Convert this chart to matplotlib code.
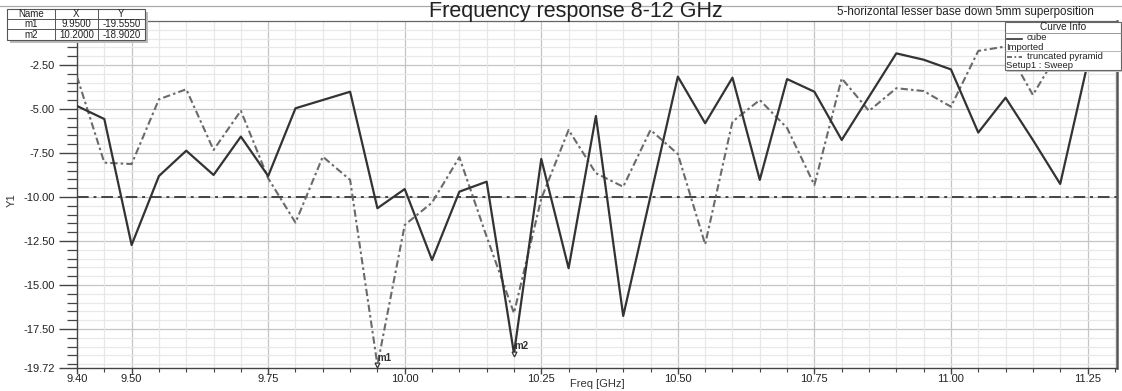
import matplotlib
matplotlib.use("Agg")
import matplotlib.pyplot as plt
from matplotlib.lines import Line2D
from matplotlib.patches import Rectangle
from matplotlib.ticker import FixedLocator, MultipleLocator

plt.rcParams['font.family'] = ['Liberation Sans', 'DejaVu Sans']

# ---------------- data ----------------
freq = [9.40, 9.45, 9.50, 9.55, 9.60, 9.65, 9.70, 9.75, 9.80, 9.85,
        9.90, 9.95, 10.00, 10.05, 10.10, 10.15, 10.20, 10.25, 10.30, 10.35,
        10.40, 10.45, 10.50, 10.55, 10.60, 10.65, 10.70, 10.75, 10.80, 10.85,
        10.90, 10.95, 11.00, 11.05, 11.10, 11.15, 11.20, 11.25]
cube = [-4.83, -5.57, -12.73, -8.81, -7.37, -8.75, -6.57, -8.81, -4.96, -4.49,
        -4.02, -10.64, -9.55, -13.58, -9.70, -9.13, -18.90, -7.84, -14.05, -5.40,
        -16.76, -9.95, -3.16, -5.81, -3.22, -9.03, -3.30, -4.02, -6.76, -4.30,
        -1.84, -2.20, -2.75, -6.34, -4.36, -6.76, -9.26, -2.45]
pyramid = [-3.16, -8.05, -8.13, -4.45, -3.88, -7.33, -5.10, -8.94, -11.46, -7.71,
           -9.03, -19.555, -11.59, -10.32, -7.74, -12.26, -16.60, -10.10, -6.19, -8.65,
           -9.42, -6.19, -7.56, -12.69, -5.72, -4.49, -6.08, -9.32, -3.26, -5.11,
           -3.82, -3.98, -4.87, -1.70, -1.45, -4.20, -1.60, -1.30]
threshold = -10.0
marker_names = ["m1", "m2"]
marker_x = [9.95, 10.20]
marker_y = [-19.555, -18.902]
xtick_vals = [9.40, 9.50, 9.75, 10.00, 10.25, 10.50, 10.75, 11.00, 11.25]
ytick_vals = [-2.5, -5.0, -7.5, -10.0, -12.5, -15.0, -17.5, -19.72]
x_range = [9.40, 11.304]
y_range = [-19.72, 0.0]
title = "Frequency response 8-12 GHz"
subtitle = "5-horizontal lesser base down 5mm superposition"
legend_entries = [("cube", "Imported"), ("truncated pyramid", "Setup1 : Sweep")]

# ---------------- figure ----------------
W, H = 1122, 391
fig = plt.figure(figsize=(W / 100, H / 100), dpi=100)
ax = fig.add_axes([77 / W, 1 - 368 / H, (1117 - 77) / W, (368 - 21) / H])

def fx(px):
    return px / W

def fy(py):
    return 1 - py / H

ax.set_xlim(*x_range)
ax.set_ylim(*y_range)

# grid
ax.xaxis.set_major_locator(FixedLocator(xtick_vals))
ax.xaxis.set_minor_locator(MultipleLocator(0.05))
ax.yaxis.set_major_locator(FixedLocator(ytick_vals))
ax.yaxis.set_minor_locator(MultipleLocator(0.5))
ax.set_xticklabels([f"{v:.2f}" for v in xtick_vals])
ax.set_yticklabels([f"{v:.2f}" for v in ytick_vals])
ax.grid(which='minor', color='#e8e8e8', linewidth=0.9)
for v in [9.50, 9.75, 10.00, 10.25, 10.50, 10.75, 11.00, 11.25]:
    ax.axvline(v, color='#c4c4c4', linewidth=0.9, zorder=0.5)
for v in [-2.5, -5.0, -7.5, -10.0, -12.5, -15.0, -17.5]:
    ax.axhline(v, color='#c4c4c4', linewidth=0.9, zorder=0.5)
ax.set_axisbelow(True)

ax.tick_params(axis='y', which='major', direction='out', length=13, width=1.0,
               color='#444444', labelsize=8, labelcolor='#222222', pad=3)
ax.tick_params(axis='y', which='minor', direction='out', length=7, width=0.9,
               color='#444444')
ax.tick_params(axis='x', which='major', direction='out', length=4, width=1.0,
               color='#444444', labelsize=8, labelcolor='#222222', pad=0.5)
ax.tick_params(axis='x', which='minor', direction='out', length=3, width=0.8,
               color='#444444')

for s in ['left', 'bottom']:
    ax.spines[s].set_color('#444444')
    ax.spines[s].set_linewidth(1.0)
ax.spines['top'].set_color('#666666')
ax.spines['top'].set_linewidth(0.9)
ax.spines['right'].set_color('#555555')
ax.spines['right'].set_linewidth(1.8)

# curves
ax.axhline(threshold, color='#444444', linewidth=1.4,
           linestyle=(0, (6, 2.5, 1.5, 2.5)), zorder=2)
ax.plot(freq, pyramid, color='#6a6a6a', linewidth=1.5,
        linestyle=(0, (3.5, 1.5, 1.2, 1.5)), zorder=3)
ax.plot(freq, cube, color='#333333', linewidth=1.6, zorder=4)

# markers
for name, mx, my in zip(marker_names, marker_x, marker_y):
    ax.plot([mx], [my], marker='v', markersize=3.5, color='#333333',
            markerfacecolor='white', markeredgewidth=0.9, zorder=5)
    ax.annotate(name, (mx, my), xytext=(0, 3), textcoords='offset points',
                fontsize=7, fontweight='bold', color='#333333', zorder=6)

# axis labels placed as in the reference
fig.text(fx(597), fy(384), "Freq [GHz]", fontsize=8, color='#333333',
         ha='center', va='center')
fig.text(fx(12), fy(200), "Y1", fontsize=8, color='#333333', rotation=90,
         ha='center', va='center')

# title and top line
fig.add_artist(Line2D([0, 1], [fy(6), fy(6)], color='#aaaaaa', linewidth=0.9))
fig.text(fx(576), fy(12), title, fontsize=15.5, ha='center', va='center',
         color='#222222')
fig.text(fx(1094), fy(12), subtitle, fontsize=8.4, ha='right', va='center',
         color='#222222')

# marker table
tx0, tx1, tx2, tx3 = 7, 55, 98, 145
ty = [9, 19, 29, 40]
fig.add_artist(Rectangle((fx(tx0 + 3), fy(ty[-1] + 3)), fx(tx3 - tx0), fy(0) - fy(ty[-1] - ty[0]),
                         facecolor='#bbbbbb', edgecolor='none', zorder=8))
fig.add_artist(Rectangle((fx(tx0), fy(ty[-1])), fx(tx3 - tx0), fy(0) - fy(ty[-1] - ty[0]),
                         facecolor='white', edgecolor='#555555', linewidth=0.8, zorder=9))
for yy in ty[1:-1]:
    fig.add_artist(Line2D([fx(tx0), fx(tx3)], [fy(yy), fy(yy)], color='#555555',
                          linewidth=0.7, zorder=10))
for xx in [tx1, tx2]:
    fig.add_artist(Line2D([fx(xx), fx(xx)], [fy(ty[0]), fy(ty[-1])], color='#555555',
                          linewidth=0.7, zorder=10))
rows = [("Name", "X", "Y")] + [(n, f"{x:.4f}", f"{y:.4f}")
                                for n, x, y in zip(marker_names, marker_x, marker_y)]
for r, row in enumerate(rows):
    yc = (ty[r] + ty[r + 1]) / 2
    for c, (a, b) in enumerate([(tx0, tx1), (tx1, tx2), (tx2, tx3)]):
        fig.text(fx((a + b) / 2), fy(yc), row[c], fontsize=7, ha='center',
                 va='center', color='#222222', zorder=11)

# legend box
lx0, lx1, ly0, ly1 = 1005, 1121, 22, 70
fig.add_artist(Rectangle((fx(lx0 + 2), fy(ly1 + 2)), fx(lx1 - lx0), fy(0) - fy(ly1 - ly0),
                         facecolor='#c8c8c8', edgecolor='none', zorder=8))
fig.add_artist(Rectangle((fx(lx0), fy(ly1)), fx(lx1 - lx0), fy(0) - fy(ly1 - ly0),
                         facecolor='white', edgecolor='#666666', linewidth=0.8, zorder=9))
fig.add_artist(Line2D([fx(lx0), fx(lx1)], [fy(32.5), fy(32.5)], color='#888888',
                      linewidth=0.6, zorder=10))
fig.add_artist(Line2D([fx(lx0), fx(lx1)], [fy(51), fy(51)], color='#aaaaaa',
                      linewidth=0.6, zorder=10))
fig.text(fx(1063), fy(27.5), "Curve Info", fontsize=7.2, ha='center', va='center',
         color='#222222', zorder=11)
styles = [dict(color='#333333', linewidth=1.2, linestyle='-'),
          dict(color='#555555', linewidth=1.2, linestyle=(0, (3, 1.5, 1, 1.5)))]
for i, ((name, sub), st) in enumerate(zip(legend_entries, styles)):
    ybase = 38 + i * 18.5
    fig.add_artist(Line2D([fx(1007), fx(1022)], [fy(ybase + 0.5), fy(ybase + 0.5)],
                          zorder=11, **st))
    fig.text(fx(1027), fy(ybase), name, fontsize=6.8, ha='left', va='center',
             color='#222222', zorder=11)
    fig.text(fx(1006), fy(ybase + 9.3), sub, fontsize=6.8, ha='left', va='center',
             color='#222222', zorder=11)

fig.savefig("out.png", dpi=100)
